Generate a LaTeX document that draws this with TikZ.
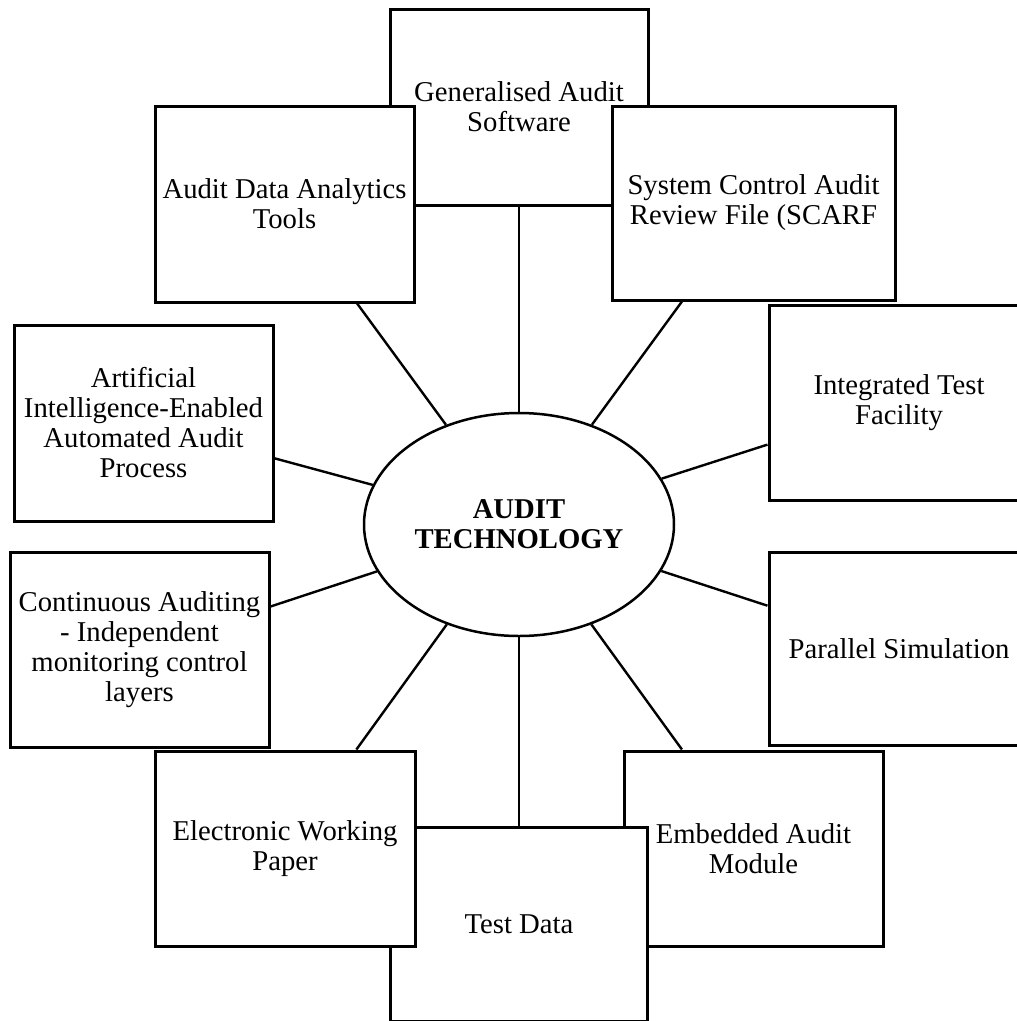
\documentclass[tikz,border=0pt]{standalone}
\usepackage{fontspec}
\setmainfont{Liberation Serif}
\usetikzlibrary{shapes.geometric}
\begin{document}
\begin{tikzpicture}[x=1pt,y=-1pt,
  boxnode/.style={draw=black, line width=3pt, fill=white, rectangle, inner sep=0pt,
    align=center, font=\fontsize{28.7}{30}\selectfont},
  spoke/.style={draw=black, line width=2.4pt}]
\useasboundingbox (0,0) rectangle (1017,1021);
% upper row (GAS behind its neighbours)
\node[boxnode, minimum width=258pt, minimum height=196pt] (gas) at (519,107) {Generalised Audit\\Software};
\node[boxnode, minimum width=259pt, minimum height=196pt] (ada) at (284.5,204) {Audit Data Analytics\\Tools};
\node[boxnode, minimum width=283pt, minimum height=194pt] (scarf) at (753.5,203) {System Control Audit\\Review File (SCARF};
% sides
\node[boxnode, minimum width=259pt, minimum height=196pt] (ai) at (143.5,423) {Artificial\\Intelligence-Enabled\\Automated Audit\\Process};
\node[boxnode, minimum width=259pt, minimum height=195pt] (ca) at (139.5,649.5) {Continuous Auditing\\- Independent\\monitoring control\\layers};
\node[boxnode, minimum width=260pt, minimum height=195pt] (itf) at (899,402.5) {Integrated Test\\Facility};
\node[boxnode, minimum width=260pt, minimum height=193pt] (ps) at (899,648.5) {Parallel Simulation};
% lower row (EAM behind Test Data, Test Data behind EWP)
\node[boxnode, minimum width=259pt, minimum height=195pt] (eam) at (753.5,848.5) {Embedded Audit\\Module};
\node[boxnode, minimum width=257pt, minimum height=194pt] (td) at (519,924) {Test Data};
\node[boxnode, minimum width=260pt, minimum height=195pt] (ewp) at (285,848.5) {Electronic Working\\Paper};
% centre
\node[ellipse, draw=black, line width=2.5pt, fill=white, minimum width=310pt, minimum height=223pt,
  inner sep=0pt, align=center, font=\fontsize{28.7}{30}\selectfont\bfseries] (c) at (519,524.5) {AUDIT\\TECHNOLOGY};
% spokes
\foreach \n in {gas,ada,scarf,ai,ca,itf,ps,ewp,td,eam}
  \draw[spoke] (c) -- (\n);
\end{tikzpicture}
\end{document}
